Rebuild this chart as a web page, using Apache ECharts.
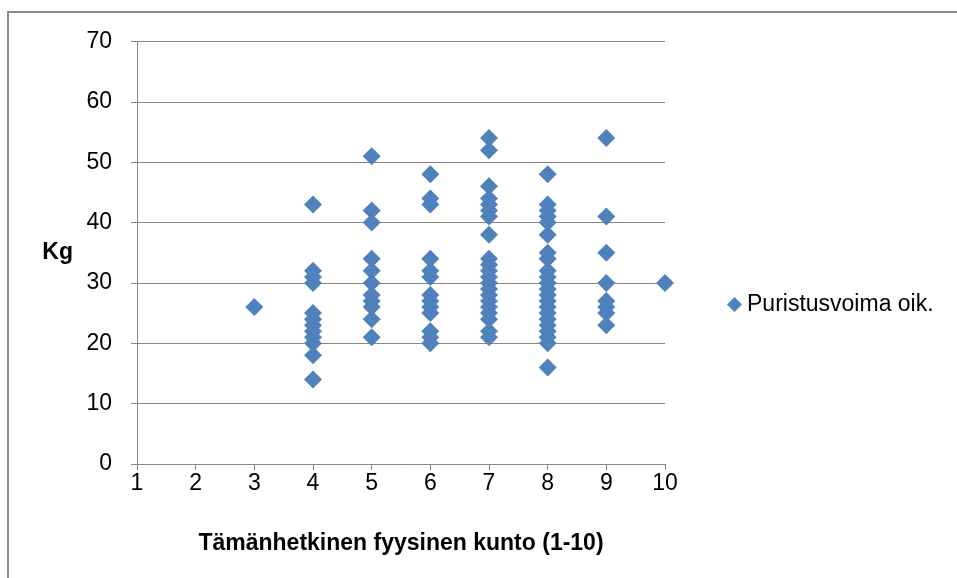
<!DOCTYPE html>
<html><head><meta charset="utf-8">
<script src="https://cdn.jsdelivr.net/npm/echarts@6/dist/echarts.min.js"></script>
<style>html,body{margin:0;padding:0;background:#fff}#c{width:957px;height:578px}</style>
</head><body><div id="c"></div>
<script>
var xTitle = 'Tämänhetkinen fyysinen kunto (1-10)';
var yTitle = 'Kg';
var seriesName = 'Puristusvoima oik.';
var xTicks = [1,2,3,4,5,6,7,8,9,10];
var yTicks = [0,10,20,30,40,50,60,70];
var col3 = [26];
var col4 = [43,32,31,30,25,24,23,22,21,20,18,14];
var col5 = [51,42,40,34,32,30,28,27,26,24,21];
var col6 = [48,44,43,34,32,31,28,27,26,25,22,21,20];
var col7 = [54,52,46,44,43,42,41,38,34,33,32,31,30,29,28,27,26,25,24,22,21];
var col8 = [48,43,42,41,40,38,35,34,32,31,30,29,28,27,26,25,24,23,22,21,20,16];
var col9 = [54,41,35,30,27,26,25,23];
var col10 = [30];

var cols = {3:col3,4:col4,5:col5,6:col6,7:col7,8:col8,9:col9,10:col10};
var data = [];
Object.keys(cols).forEach(function(k){ cols[k].forEach(function(v){ data.push([+k, v]); }); });

var font = 'Liberation Sans';
var fs = 23;
var chart = echarts.init(document.getElementById('c'));
chart.setOption({
  animation:false,
  backgroundColor:'#fff',
  textStyle:{fontFamily:font},
  graphic:[{type:'rect',shape:{x:8,y:12,width:1000,height:1000},style:{fill:'none',stroke:'#8c8c8c',lineWidth:2}}],
  grid:{left:137,right:292,top:41.5,bottom:114},
  legend:{show:true,data:[{name:seriesName,icon:'diamond'}],left:722,top:288,itemWidth:15,itemHeight:15,itemGap:6,
    textStyle:{fontFamily:font,fontSize:fs,color:'#000'}},
  xAxis:{type:'value',min:1,max:10,interval:1,
    name:xTitle,nameLocation:'middle',nameGap:68,
    nameTextStyle:{fontFamily:font,fontSize:fs,fontWeight:'bold',color:'#000'},
    axisLine:{lineStyle:{color:'#868686'}},axisTick:{show:true,length:6,lineStyle:{color:'#868686'}},
    axisLabel:{fontFamily:font,fontSize:fs,color:'#000',margin:8,formatter:function(v){return xTicks.indexOf(v)>=0?String(v):'';}},
    splitLine:{show:false}},
  yAxis:{type:'value',min:0,max:70,interval:10,
    name:yTitle,nameLocation:'middle',nameGap:64,nameRotate:0,
    nameTextStyle:{fontFamily:font,fontSize:fs,fontWeight:'bold',color:'#000'},
    axisLine:{show:true,lineStyle:{color:'#868686'}},axisTick:{show:true,length:6,lineStyle:{color:'#868686'}},
    axisLabel:{fontFamily:font,fontSize:fs,color:'#000',margin:25,formatter:function(v){return yTicks.indexOf(v)>=0?String(v):'';}},
    splitLine:{show:true,lineStyle:{color:'#868686',width:1}}},
  series:[{name:seriesName,type:'scatter',symbol:'diamond',symbolSize:18,
    itemStyle:{color:'#4F81BD',opacity:1},data:data}]
});
</script></body></html>
